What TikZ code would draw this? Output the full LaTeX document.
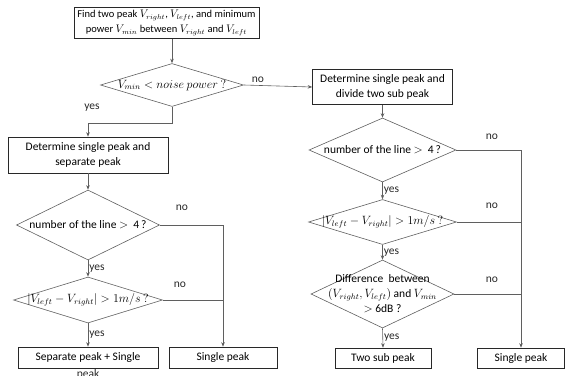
\documentclass[tikz,border=0pt]{standalone}
\usepackage{fontspec}
\setmainfont{Carlito}
\usetikzlibrary{shapes.geometric,arrows.meta}

\begin{document}
\begin{tikzpicture}[x=1pt,y=-1pt,font=\fontsize{11.5}{15}\selectfont,
  proc/.style={draw=ink, line width=0.6pt, inner sep=1pt, align=center},
  test/.style={draw=edge, line width=0.6pt, diamond, inner sep=0pt},
  flow/.style={draw=edge, line width=0.6pt},
  tip/.style={-{Stealth[length=4.5pt,width=3.5pt]}},
  ans/.style={inner sep=1pt, text=ink}]
  \definecolor{ink}{RGB}{40,40,40}
  \definecolor{edge}{RGB}{95,95,95}

  \useasboundingbox (0,0) rectangle (569,375);

  % left branch
  \node[proc, minimum width=185pt, minimum height=31pt, font=\fontsize{10.5}{15}\selectfont] (find) at (166.5,23)
    {Find two peak $V_{right}$, $V_{left}$, and minimum\\power $V_{min}$ between $V_{right}$ and $V_{left}$};
  \node[test, minimum width=143pt, minimum height=43pt,
    label={center:$V_{min} < noise\ power\ ?$}] (noise) at (172,85) {};
  \node[proc, minimum width=160pt, minimum height=36pt] (separate) at (88,155)
    {Determine single peak and\\separate peak};
  \node[test, minimum width=143pt, minimum height=70pt,
    label={center:number of the line $>$ ~4\,?}] (lines1) at (88,225) {};
  \node[test, minimum width=149pt, minimum height=46pt,
    label={center:$\left|V_{left}-V_{right}\right| > 1m/s\ ?$}] (speed1) at (88,300) {};
  \node[proc, minimum width=140pt, minimum height=21pt,
    label={[ans, yshift=0pt]below:peak}] (sep) at (88,357.5) {Separate peak + Single};
  \node[proc, minimum width=108pt, minimum height=21pt] (single1) at (223,357.5) {Single peak};

  % right branch
  \node[proc, minimum width=140pt, minimum height=35pt] (split) at (382.5,87)
    {Determine single peak and\\divide two sub peak};
  \node[test, minimum width=147pt, minimum height=64pt,
    label={center:number of the line $>$ ~4\,?}] (lines2) at (382.5,150) {};
  \node[test, minimum width=148pt, minimum height=45pt,
    label={center:$\left|V_{left}-V_{right}\right| > 1m/s\ ?$}] (speed2) at (382.5,222) {};
  \node[test, minimum width=143pt, minimum height=68pt,
    label={[align=center]center:Difference~ between\\$(V_{right},V_{left})$ and $V_{min}$\\$>$ 6dB ?}] (gap) at (382.5,294) {};
  \node[proc, minimum width=96pt, minimum height=20pt] (two) at (383,358) {Two sub peak};
  \node[proc, minimum width=87pt, minimum height=20pt] (single2) at (521,358) {Single peak};

  % connectors
  \draw[flow,tip] (find.south -| noise.north) -- (noise.north);
  \draw[flow,tip] (noise.east) -- (split.west);
  \draw[flow,tip] (noise.south) -- ++(0,16) -| (separate.north);
  \draw[flow,tip] (separate.south) -- (lines1.north);
  \draw[flow,tip] (split.south) -- (lines2.north);
  \foreach \from/\to in {lines1/speed1, speed1/sep, lines2/speed2, speed2/gap, gap/two}
    \draw[flow,tip] (\from.south) -- node[ans, right] {yes} (\to.north);
  \draw[flow,tip] (lines1.east) -| (single1.north);
  \draw[flow] (speed1.east) -- (speed1.east -| single1.north);
  \draw[flow,tip] (lines2.east) -| (single2.north);
  \draw[flow] (speed2.east) -- (speed2.east -| single2.north);
  \draw[flow] (gap.east) -- (gap.east -| single2.north);

  % answers
  \node[ans] (yes0) at (92,108) {yes};
  \foreach \name/\px/\py in {no0/258/80, no1/182/208, no2/180/285, no3/492/137, no4/492/206, no5/492/280}
    \node[ans] (\name) at (\px,\py) {no};
\end{tikzpicture}
\end{document}
